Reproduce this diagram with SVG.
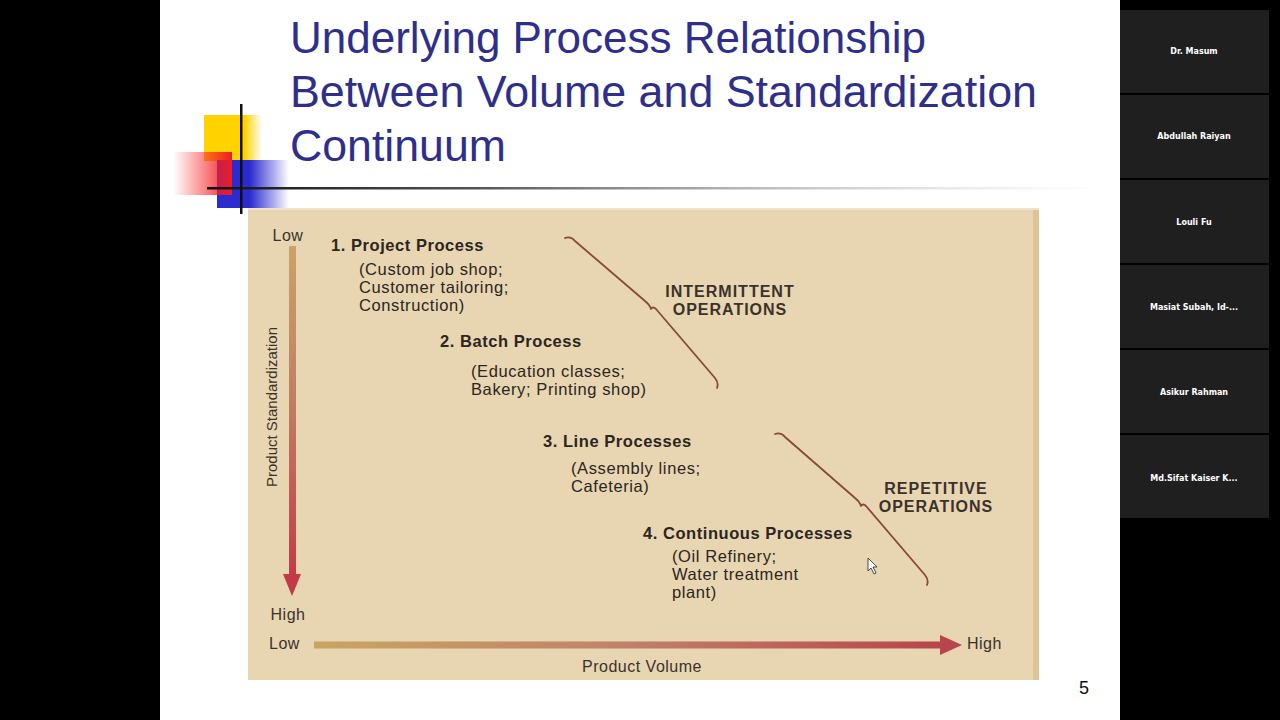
<svg xmlns="http://www.w3.org/2000/svg" width="1280" height="720" viewBox="0 0 1280 720">
<defs>
<style>
.title{font-family:"Liberation Sans",Arial,sans-serif;font-size:45px;fill:#2e2f8c}
.b{font-family:"Liberation Sans",Arial,sans-serif;font-size:16.5px;font-weight:bold;fill:#2b2622;letter-spacing:0.55px}
.r{font-family:"Liberation Sans",Arial,sans-serif;font-size:16.5px;fill:#2b2622;letter-spacing:0.6px}
.ops{font-family:"Liberation Sans",Arial,sans-serif;font-size:16px;font-weight:bold;fill:#3a322c;text-anchor:middle;letter-spacing:1px}
.ax{font-family:"Liberation Sans",Arial,sans-serif;font-size:16px;fill:#3a322c;letter-spacing:0.5px}
.axv{font-family:"Liberation Sans",Arial,sans-serif;font-size:15px;fill:#3a322c}
.name{font-family:"DejaVu Sans",sans-serif;font-size:8px;font-weight:bold;fill:#ffffff;text-anchor:middle}
.tile{fill:#1f1f1f}
.brace{fill:none;stroke:#854a3a;stroke-width:1.8;stroke-linecap:round;stroke-linejoin:round}
</style>
<linearGradient id="gv" x1="0" y1="0" x2="0" y2="1"><stop offset="0" stop-color="#c9a36a"/><stop offset="0.5" stop-color="#c17a62"/><stop offset="1" stop-color="#c23a48"/></linearGradient>
<linearGradient id="gh" x1="0" y1="0" x2="1" y2="0"><stop offset="0" stop-color="#c9a563"/><stop offset="0.5" stop-color="#c0806a"/><stop offset="1" stop-color="#b8444c"/></linearGradient>
<linearGradient id="gy" x1="0" y1="0" x2="1" y2="0"><stop offset="0" stop-color="#ffd200"/><stop offset="0.7" stop-color="#ffd200"/><stop offset="1" stop-color="#ffd200" stop-opacity="0"/></linearGradient>
<linearGradient id="gr" x1="0" y1="0" x2="1" y2="0"><stop offset="0" stop-color="#ff2020" stop-opacity="0"/><stop offset="1" stop-color="#ee1c24"/></linearGradient>
<linearGradient id="gb" x1="0" y1="0" x2="1" y2="0"><stop offset="0" stop-color="#2b2bd0"/><stop offset="0.45" stop-color="#2b2bd0"/><stop offset="1" stop-color="#2b2bd0" stop-opacity="0"/></linearGradient>
<linearGradient id="gl" x1="0" y1="0" x2="1" y2="0"><stop offset="0" stop-color="#111"/><stop offset="0.3" stop-color="#555"/><stop offset="1" stop-color="#bbb" stop-opacity="0"/></linearGradient>
</defs>
<rect width="1280" height="720" fill="#000"/>
<rect x="160" y="0" width="960" height="720" fill="#ffffff"/>

<g id="sidebar">
<rect class="tile" x="1120" y="10" width="149" height="83"/>
<rect class="tile" x="1120" y="95" width="149" height="83"/>
<rect class="tile" x="1120" y="180" width="149" height="83"/>
<rect class="tile" x="1120" y="265" width="149" height="83"/>
<rect class="tile" x="1120" y="350" width="149" height="83"/>
<rect class="tile" x="1120" y="435" width="149" height="83"/>
<text class="name" x="1194" y="54">Dr. Masum</text>
<text class="name" x="1194" y="139">Abdullah Raiyan</text>
<text class="name" x="1194" y="225">Louli Fu</text>
<text class="name" x="1194" y="310">Masiat Subah, Id-...</text>
<text class="name" x="1194" y="395">Asikur Rahman</text>
<text class="name" x="1194" y="481">Md.Sifat Kaiser K...</text>
</g>

<g id="logo">
<rect x="204" y="115" width="58" height="46" fill="url(#gy)"/>
<rect x="217" y="160" width="72" height="48" fill="url(#gb)"/>
<rect x="173" y="152" width="59" height="43" fill="url(#gr)"/>
<rect x="207" y="187" width="900" height="2.5" fill="url(#gl)"/>
<rect x="240" y="104" width="2.5" height="110" fill="#111"/>
</g>

<g id="title">
<text class="title" x="290" y="53" textLength="636" lengthAdjust="spacingAndGlyphs">Underlying Process Relationship</text>
<text class="title" x="290" y="107" textLength="747" lengthAdjust="spacingAndGlyphs">Between Volume and Standardization</text>
<text class="title" x="290" y="161" textLength="216" lengthAdjust="spacingAndGlyphs">Continuum</text>
</g>

<g id="panel">
<rect x="248" y="208" width="791" height="472" fill="#e8d5b1"/>
<rect x="1033" y="208" width="6" height="472" fill="#dcc497"/>
<rect x="248" y="208" width="791" height="2" fill="#efe2c8"/>
</g>

<g id="axes">
<rect x="289" y="246" width="7" height="332" fill="url(#gv)"/>
<polygon points="283,574 301,574 292,596" fill="#c23a48"/>
<rect x="314" y="641.5" width="630" height="7" fill="url(#gh)"/>
<polygon points="940,635 940,655 962,645" fill="#b8444c"/>
<text class="ax" x="288" y="241" text-anchor="middle">Low</text>
<text class="ax" x="288" y="620" text-anchor="middle">High</text>
<text class="ax" x="269" y="649">Low</text>
<text class="ax" x="967" y="649">High</text>
<text class="ax" x="642" y="672" text-anchor="middle">Product Volume</text>
<text class="axv" transform="translate(277,407) rotate(-90)" text-anchor="middle">Product Standardization</text>
</g>

<g id="connectors">
<path class="brace" d="M565,238 Q571,236 575,241 L645,301 Q650,305 651,309 Q653,306 656,309 L715,378 Q719,383 717,388"/>
<path class="brace" d="M775,434 Q781,432 785,437 L855,498 Q860,502 861,506 Q863,503 866,506 L925,575 Q929,580 927,585"/>
</g>

<g id="n1">
<text class="b" x="331" y="251">1. Project Process</text>
<text class="r" x="359" y="275">(Custom job shop;</text>
<text class="r" x="359" y="293">Customer tailoring;</text>
<text class="r" x="359" y="311">Construction)</text>
</g>
<g id="n2">
<text class="b" x="440" y="347">2. Batch Process</text>
<text class="r" x="471" y="377">(Education classes;</text>
<text class="r" x="471" y="395">Bakery; Printing shop)</text>
</g>
<g id="n3">
<text class="b" x="543" y="447">3. Line Processes</text>
<text class="r" x="571" y="474">(Assembly lines;</text>
<text class="r" x="571" y="492">Cafeteria)</text>
</g>
<g id="n4">
<text class="b" x="643" y="539">4. Continuous Processes</text>
<text class="r" x="672" y="562">(Oil Refinery;</text>
<text class="r" x="672" y="580">Water treatment</text>
<text class="r" x="672" y="598">plant)</text>
</g>
<g id="intermittent">
<text class="ops" x="730" y="297">INTERMITTENT</text>
<text class="ops" x="730" y="315">OPERATIONS</text>
</g>
<g id="repetitive">
<text class="ops" x="936" y="494">REPETITIVE</text>
<text class="ops" x="936" y="512">OPERATIONS</text>
</g>

<path d="M868,558 L868,571 L871,568 L874,574 L876,573 L873,567 L877,567 Z" fill="#fff" stroke="#222" stroke-width="0.8"/>
<text x="1084" y="694" font-family="Liberation Sans,Arial,sans-serif" font-size="18" fill="#111" text-anchor="middle">5</text>
</svg>
